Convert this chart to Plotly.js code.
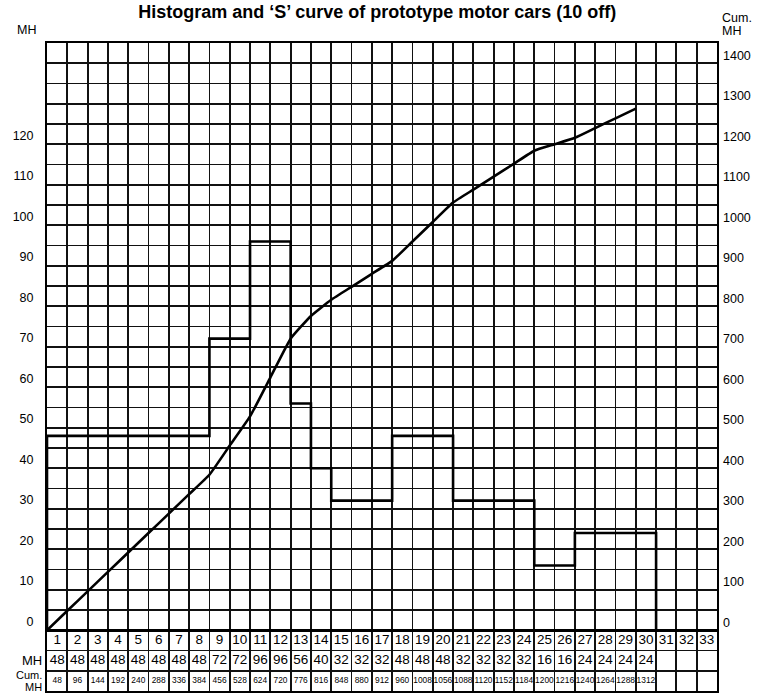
<!DOCTYPE html>
<html>
<head>
<meta charset="utf-8">
<script src="https://cdn.plot.ly/plotly-3.0.1.min.js"></script>
<style>html,body{margin:0;padding:0;background:#fff;}#chart{width:759px;height:695px;}</style>
</head>
<body>
<div id="chart"></div>
<script>
// Data
const days = [1,2,3,4,5,6,7,8,9,10,11,12,13,14,15,16,17,18,19,20,21,22,23,24,25,26,27,28,29,30,31,32,33];
const dailyMH = [48,48,48,48,48,48,48,48,72,72,96,96,56,40,32,32,32,48,48,48,32,32,32,32,16,16,24,24,24,24];
const cumMH = [48,96,144,192,240,288,336,384,456,528,624,720,776,816,848,880,912,960,1008,1056,1088,1120,1152,1184,1200,1216,1240,1264,1288,1312];
const sCurveDays = 29; // curve drawn to end of day 29
const leftLabels = [0,10,20,30,40,50,60,70,80,90,100,110,120];
const rightLabels = [0,100,200,300,400,500,600,700,800,900,1000,1100,1200,1300,1400];

// Histogram step line
const hx = [0], hy = [0];
dailyMH.forEach((v,i)=>{ hx.push(i); hy.push(v); });
hx.push(dailyMH.length); hy.push(dailyMH[dailyMH.length-1]);
hx.push(dailyMH.length); hy.push(0);

// S curve
const sx = [0], sy = [0];
for (let i=0;i<sCurveDays;i++){ sx.push(i+1); sy.push(cumMH[i]); }

// Table text positions (column centres)
const colX = days.map(d=>d-0.5);
const mhX = dailyMH.map((v,i)=>i+0.5);
const cumX = cumMH.map((v,i)=>i+0.5);

const FONT = 'Liberation Sans, Arial, Helvetica, sans-serif';

const gridVals = [];
for (let v=-15; v<=145; v+=5) gridVals.push(v);
const gridText = gridVals.map(v => leftLabels.includes(v) ? String(v) : '');

const traces = [
  {x:hx, y:hy, mode:'lines', line:{shape:'hv', color:'#000', width:2.6}, hoverinfo:'skip', showlegend:false},
  {x:sx, y:sy, yaxis:'y2', mode:'lines', line:{shape:'spline', smoothing:0.4, color:'#000', width:2.6}, hoverinfo:'skip', showlegend:false},
  {x:colX, y:colX.map(()=>-2.5), mode:'text', text:days.map(String), textfont:{family:FONT, size:13.5, color:'#000'}, hoverinfo:'skip', showlegend:false},
  {x:mhX, y:mhX.map(()=>-7.5), mode:'text', text:dailyMH.map(String), textfont:{family:FONT, size:13.5, color:'#000'}, hoverinfo:'skip', showlegend:false},
  {x:cumX, y:cumX.map(()=>-12.5), mode:'text', text:cumMH.map(String), textfont:{family:FONT, size:8.4, color:'#000'}, hoverinfo:'skip', showlegend:false}
];

const layout = {
  width:759, height:695,
  margin:{l:47, r:42, t:43, b:4, pad:0},
  paper_bgcolor:'#fff', plot_bgcolor:'#fff',
  font:{family:FONT, color:'#000'},
  title:{text:'Histogram and ‘S’ curve of prototype motor cars (10 off)', font:{family:FONT, size:18, weight:'bold', color:'#000'}, x:0.497, xanchor:'center', y:0.992, yanchor:'top'},
  xaxis:{range:[0,33], tickmode:'linear', tick0:0, dtick:1, showgrid:true, gridcolor:'#111', gridwidth:1.8, showticklabels:false, ticks:'', zeroline:false, showline:true, mirror:true, linecolor:'#000', linewidth:2, fixedrange:true},
  yaxis:{range:[-15,145], tickmode:'array', tickvals:gridVals, ticktext:gridText, showgrid:true, gridcolor:'#111', gridwidth:1.8, ticks:'', ticklabelstandoff:9, ticklabelshift:-9, tickfont:{family:FONT, size:12.5, color:'#000'}, zeroline:true, zerolinecolor:'#000', zerolinewidth:2.8, showline:true, mirror:true, linecolor:'#000', linewidth:2, fixedrange:true},
  yaxis2:{range:[-150,1450], overlaying:'y', side:'right', tickmode:'array', tickvals:rightLabels, ticktext:rightLabels.map(String), showgrid:false, zeroline:false, ticks:'', ticklabelstandoff:5, ticklabelshift:-8, tickfont:{family:FONT, size:12.5, color:'#000'}, fixedrange:true},
  annotations:[
    {xref:'paper', yref:'paper', x:0, y:1, xanchor:'right', yanchor:'bottom', xshift:-9, yshift:4, text:'MH', showarrow:false, font:{family:FONT, size:12.5, color:'#000'}},
    {xref:'paper', yref:'paper', x:1, y:1, xanchor:'left', yanchor:'bottom', xshift:3, yshift:16, text:'Cum.', showarrow:false, font:{family:FONT, size:12.5, color:'#000'}},
    {xref:'paper', yref:'paper', x:1, y:1, xanchor:'left', yanchor:'bottom', xshift:3, yshift:3, text:'MH', showarrow:false, font:{family:FONT, size:12.5, color:'#000'}},
    {xref:'x', yref:'y', x:0, y:-7.5, xanchor:'right', yanchor:'middle', xshift:-3, text:'MH', showarrow:false, font:{family:FONT, size:13, color:'#000'}},
    {xref:'x', yref:'y', x:0, y:-12.5, xanchor:'right', yanchor:'middle', xshift:-3, yshift:6, text:'Cum.', showarrow:false, font:{family:FONT, size:11, color:'#000'}},
    {xref:'x', yref:'y', x:0, y:-12.5, xanchor:'right', yanchor:'middle', xshift:-3, yshift:-6.5, text:'MH', showarrow:false, font:{family:FONT, size:11, color:'#000'}}
  ]
};

Plotly.newPlot('chart', traces, layout, {displayModeBar:false, staticPlot:true});
</script>
</body>
</html>
